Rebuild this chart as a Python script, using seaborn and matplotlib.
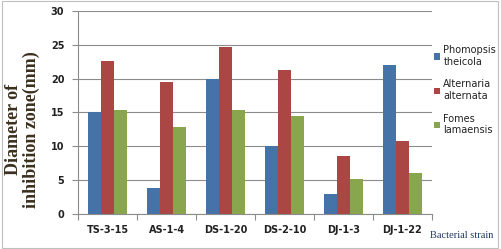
import matplotlib
matplotlib.use("Agg")
import matplotlib.pyplot as plt
import seaborn as sns
import pandas as pd
import numpy as np
from matplotlib.patches import Rectangle

strains = ["TS-3-15", "AS-1-4", "DS-1-20", "DS-2-10", "DJ-1-3", "DJ-1-22"]
series = ["Phomopsis\ntheicola", "Alternaria\nalternata", "Fomes\nlamaensis"]
phomopsis = [15.0, 3.9, 20.0, 10.0, 3.0, 22.0]
alternaria = [22.6, 19.5, 24.6, 21.3, 8.6, 10.8]
fomes = [15.4, 12.8, 15.4, 14.5, 5.2, 6.1]
colors = ["#4572A7", "#AA4643", "#89A54E"]

rows = []
for s, vals in zip(series, [phomopsis, alternaria, fomes]):
    for st, v in zip(strains, vals):
        rows.append({"strain": st, "series": s, "value": v})
df = pd.DataFrame(rows)

sns.set_theme(style="white")
fig = plt.figure(figsize=(5.01, 2.49), dpi=100)
ax = fig.add_axes([0.156, 0.141, 0.706, 0.815])

sns.barplot(data=df, x="strain", y="value", hue="series", order=strains,
            hue_order=series, palette=colors, width=0.66, gap=0,
            saturation=1, ax=ax, legend=True, edgecolor="none")

ax.set_ylim(0, 30)
ax.set_xlim(-0.5, 5.5)
ax.set_yticks(np.arange(0, 31, 5))
ax.yaxis.grid(True, color="#8c8c8c", linewidth=0.8)
ax.set_axisbelow(True)
for sp in ["top", "right"]:
    ax.spines[sp].set_visible(False)
for sp in ["left", "bottom"]:
    ax.spines[sp].set_color("#8c8c8c")
    ax.spines[sp].set_linewidth(0.8)

ax.set_xticks(np.arange(-0.5, 6, 1), minor=True)
ax.tick_params(axis="x", which="major", length=0, pad=8)
ax.tick_params(axis="x", which="minor", length=4, color="#8c8c8c", width=0.8, direction="out")
ax.tick_params(axis="y", which="major", length=4, color="#8c8c8c", width=0.8,
               direction="out", pad=6)
ax.tick_params(axis="y", left=True)
ax.tick_params(axis="x", bottom=True, which="both")
for lab in ax.get_xticklabels() + ax.get_yticklabels():
    lab.set_fontsize(7)
    lab.set_fontweight("bold")
    lab.set_color("#222222")
ax.set_xlabel("")
ax.set_ylabel("")

fig.text(0.045, 0.48, "Diameter of\ninhibition zone(mm)", rotation=90,
         ha="center", va="center", fontsize=13, fontweight="bold",
         family="Liberation Serif", color="#3b2f1e", linespacing=1.0)
fig.text(0.985, 0.055, "Bacterial strain", ha="right", va="center",
         fontsize=7.5, family="Liberation Serif", color="#1F3864")

leg = ax.legend(loc="upper left", bbox_to_anchor=(0.99, 0.86), frameon=False,
                fontsize=7, handlelength=0.6, handleheight=0.6,
                handletextpad=0.35, labelspacing=1.3, borderaxespad=0.2)
for t in leg.get_texts():
    t.set_color("#222222")

fig.patches.append(Rectangle((0.003, 0.005), 0.992, 0.99, transform=fig.transFigure,
                             fill=False, edgecolor="#bfbfbf", linewidth=0.8))

fig.savefig("out.png", dpi=100)
